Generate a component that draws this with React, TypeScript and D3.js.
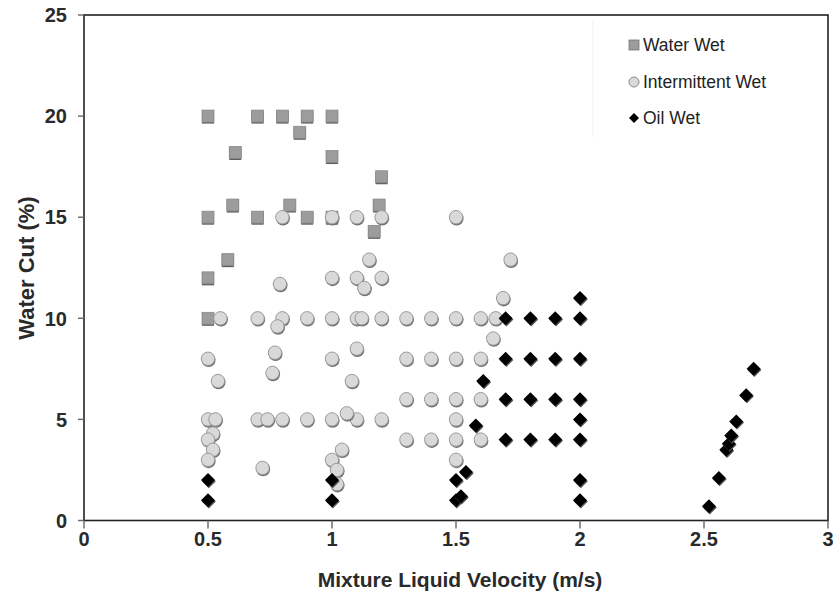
import React from "react";
import * as d3 from "d3";

const W = 833;
const H = 597;

const xTicks = [0, 0.5, 1, 1.5, 2, 2.5, 3];
const xTickLabels = ["0", "0.5", "1", "1.5", "2", "2.5", "3"];
const yTicks = [0, 5, 10, 15, 20, 25];
const yTickLabels = ["0", "5", "10", "15", "20", "25"];

const waterWetX = [0.5, 0.7, 0.8, 0.9, 1.0, 0.87, 0.61, 1.0, 1.2, 0.6, 0.83, 1.19, 0.5, 0.7, 0.9, 1.0, 1.17, 0.58, 0.5, 0.5];
const waterWetY = [20, 20, 20, 20, 20, 19.2, 18.2, 18, 17, 15.6, 15.6, 15.6, 15, 15, 15, 15, 14.3, 12.9, 12, 10];

const interX = [
  0.8, 1.0, 1.1, 1.2, 1.5,
  1.15, 1.72,
  1.0, 1.1, 1.2, 1.13, 0.79,
  1.69,
  0.55, 0.7, 0.8, 0.78, 0.9, 1.0, 1.1, 1.12, 1.2, 1.3, 1.4, 1.5, 1.6, 1.66,
  1.65,
  0.5, 0.77, 1.0, 1.1,
  1.3, 1.4, 1.5, 1.6,
  0.54, 0.76, 1.08,
  1.3, 1.4, 1.5, 1.6,
  0.5, 0.53, 0.7, 0.74, 0.8, 0.9, 1.0, 1.1, 1.2, 1.5, 1.06,
  0.52, 0.5, 0.52, 0.5,
  1.3, 1.4, 1.5, 1.6,
  0.72, 1.04, 1.0, 1.02, 1.02,
  1.5,
];
const interY = [
  15, 15, 15, 15, 15,
  12.9, 12.9,
  12, 12, 12, 11.5, 11.7,
  11,
  10, 10, 10, 9.6, 10, 10, 10, 10, 10, 10, 10, 10, 10, 10,
  9,
  8, 8.3, 8, 8.5,
  8, 8, 8, 8,
  6.9, 7.3, 6.9,
  6, 6, 6, 6,
  5, 5, 5, 5, 5, 5, 5, 5, 5, 5, 5.3,
  4.3, 4, 3.5, 3,
  4, 4, 4, 4,
  2.6, 3.5, 3, 2.5, 1.8,
  3,
];

const oilWetX = [
  0.5, 0.5, 1.0, 1.0,
  1.5, 1.5, 1.52, 1.54, 1.58, 1.61,
  1.7, 1.8, 1.9, 2.0, 2.0,
  1.7, 1.8, 1.9, 2.0,
  1.7, 1.8, 1.9, 2.0,
  1.7, 1.8, 1.9, 2.0,
  2.0, 2.0, 2.0,
  2.52, 2.56, 2.59, 2.6, 2.61, 2.63, 2.67, 2.7,
];
const oilWetY = [
  2, 1, 2, 1,
  2, 1, 1.2, 2.4, 4.7, 6.9,
  10, 10, 10, 10, 11,
  8, 8, 8, 8,
  6, 6, 6, 6,
  4, 4, 4, 4,
  5, 2, 1,
  0.7, 2.1, 3.5, 3.8, 4.2, 4.9, 6.2, 7.5,
];

const legendLabels = ["Water Wet", "Intermittent Wet", "Oil Wet"];

const FONT = "'Liberation Sans', Arial, Helvetica, sans-serif";

function Square({ x, y, s = 12 }: { x: number; y: number; s?: number }) {
  return (
    <g>
      <rect x={x - s / 2} y={y - s / 2 + 1.5} width={s} height={s} fill="#5e5e5e" />
      <rect x={x - s / 2} y={y - s / 2} width={s} height={s} fill="#9c9c9c" stroke="#888" strokeWidth={0.8} />
    </g>
  );
}

function Circle({ x, y, r = 7 }: { x: number; y: number; r?: number }) {
  return (
    <g>
      <circle cx={x + 0.6} cy={y + 1.3} r={r} fill="#707070" />
      <circle cx={x} cy={y} r={r - 0.3} fill="#d9d9d9" stroke="#9a9a9a" strokeWidth={1} />
    </g>
  );
}

function Diamond({ x, y, r = 7 }: { x: number; y: number; r?: number }) {
  const p = (dx: number, dy: number) =>
    `M${x + dx},${y - r + dy}L${x + r + dx},${y + dy}L${x + dx},${y + r + dy}L${x - r + dx},${y + dy}Z`;
  return (
    <g>
      <path d={p(0.8, 1.2)} fill="#555" />
      <path d={p(0, 0)} fill="#000" />
    </g>
  );
}

export default function App() {
  const left = 84;
  const right = 828;
  const top = 15;
  const bottom = 520.5;
  const x = d3.scaleLinear().domain([0, 3]).range([left, right]);
  const y = d3.scaleLinear().domain([0, 25]).range([bottom, top]);

  return (
    <svg
      width={W}
      height={H}
      style={{ position: "absolute", left: 0, top: 0, background: "#fff" }}
      fontFamily={FONT}
    >
      <rect x={0} y={0} width={W} height={H} fill="#fff" />
      {/* faint legend border */}
      <line x1={593} y1={20} x2={593} y2={137} stroke="#f0f0f0" strokeWidth={1} />

      {/* frame */}
      <rect x={left} y={top} width={right - left} height={bottom - top} fill="none" stroke="#222" strokeWidth={1.6} />

      {/* y ticks */}
      {yTicks.map((t, i) => (
        <g key={"y" + i}>
          <line x1={left - 6} x2={left} y1={y(t)} y2={y(t)} stroke="#666" strokeWidth={1.4} />
          <text
            x={67}
            y={y(t)}
            dy="0.36em"
            textAnchor="end"
            fontSize={20}
            fontWeight="bold"
            fill="#2a2a2a"
          >
            {yTickLabels[i]}
          </text>
        </g>
      ))}

      {/* x ticks */}
      {xTicks.map((t, i) => (
        <g key={"x" + i}>
          <line x1={x(t)} x2={x(t)} y1={bottom} y2={bottom + 8} stroke="#666" strokeWidth={1.4} />
          <text
            x={x(t)}
            y={546}
            textAnchor="middle"
            fontSize={20}
            fontWeight="bold"
            fill="#2a2a2a"
          >
            {xTickLabels[i]}
          </text>
        </g>
      ))}

      {/* axis titles */}
      <text
        transform={`translate(34,268) rotate(-90)`}
        textAnchor="middle"
        fontSize={22}
        fontWeight="bold"
        fill="#2a2a2a"
      >
        Water Cut (%)
      </text>
      <text x={460} y={587} textAnchor="middle" fontSize={21} fontWeight="bold" fill="#2a2a2a">
        Mixture Liquid Velocity (m/s)
      </text>

      {/* data */}
      {waterWetX.map((v, i) => (
        <Square key={"w" + i} x={x(v)} y={y(waterWetY[i])} />
      ))}
      {interX.map((v, i) => (
        <Circle key={"c" + i} x={x(v)} y={y(interY[i])} />
      ))}
      {oilWetX.map((v, i) => (
        <Diamond key={"d" + i} x={x(v)} y={y(oilWetY[i])} />
      ))}

      {/* legend */}
      <g>
        <rect x={629} y={40} width={10} height={10} fill="#9c9c9c" stroke="#777" strokeWidth={0.8} />
        <circle cx={634} cy={82} r={5} fill="#d9d9d9" stroke="#8a8a8a" strokeWidth={1} />
        <path d="M634,113L639,118L634,123L629,118Z" fill="#000" />
        {legendLabels.map((l, i) => (
          <text key={l} x={643} y={45 + i * 36.5} dy="0.36em" fontSize={17.5} fill="#222">
            {l}
          </text>
        ))}
      </g>
    </svg>
  );
}
